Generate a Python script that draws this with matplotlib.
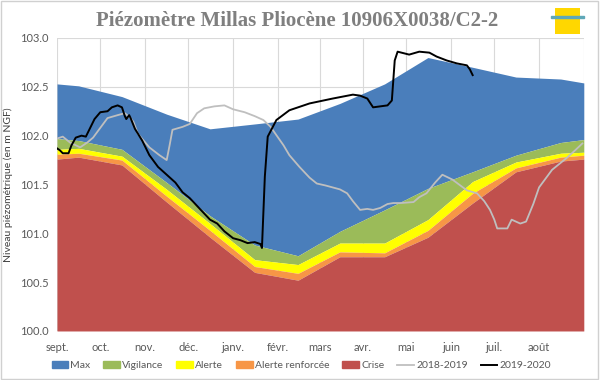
import matplotlib
matplotlib.use("Agg")
import matplotlib.pyplot as plt
from matplotlib.patches import Patch, Rectangle
from matplotlib.lines import Line2D

# days since 1 September (hydrological year)
month_starts = [0, 30, 61, 91, 122, 153, 182, 212, 242, 273, 303, 334]
month_labels = ["sept.", "oct.", "nov.", "déc.", "janv.", "févr.", "mars",
                "avr.", "mai", "juin", "juil.", "août"]

# threshold curves (monthly values, mid-month)
band_days = [0, 15, 45, 76, 106, 137, 167, 196, 227, 257, 288, 318, 349, 365]
max_lvl = [102.53, 102.51, 102.40, 102.22, 102.07, 102.12, 102.17, 102.33,
           102.53, 102.80, 102.70, 102.60, 102.58, 102.54]
vigilance = [101.97, 101.95, 101.86, 101.52, 101.18, 100.88, 100.77, 101.02,
             101.24, 101.46, 101.63, 101.80, 101.93, 101.96]
alerte = [101.86, 101.87, 101.79, 101.45, 101.10, 100.73, 100.68, 100.90,
          100.90, 101.14, 101.53, 101.73, 101.82, 101.83]
alerte_renf = [101.81, 101.82, 101.75, 101.38, 101.03, 100.66, 100.59, 100.81,
               100.80, 101.03, 101.41, 101.67, 101.78, 101.80]
crise = [101.76, 101.78, 101.70, 101.32, 100.96, 100.60, 100.52, 100.76,
         100.76, 100.96, 101.31, 101.63, 101.74, 101.76]

# 2018-2019 water levels
days_1819 = [0, 4, 9, 16, 21, 25, 30, 35, 42, 47, 51, 53, 56, 60, 64, 71, 76, 78,
             80, 87, 92, 97, 102, 109, 116, 122, 130, 137, 143, 148, 157, 161,
             168, 175, 180, 186, 191, 196, 201, 205, 210, 215, 219, 224, 229,
             233, 238, 247, 251, 256, 262, 267, 274, 284, 291, 296, 300, 303,
             305, 312, 315, 318, 321, 325, 330, 334, 339, 343, 353, 359, 364]
lvl_1819 = [101.97, 101.99, 101.93, 101.88, 101.93, 101.98, 102.08, 102.18,
            102.21, 102.23, 102.18, 102.14, 102.02, 101.95, 101.88, 101.80,
            101.75, 101.90, 102.06, 102.09, 102.12, 102.23, 102.28, 102.30,
            102.31, 102.27, 102.24, 102.20, 102.16, 102.09, 101.90, 101.80,
            101.68, 101.57, 101.51, 101.49, 101.47, 101.45, 101.41, 101.33,
            101.24, 101.25, 101.24, 101.26, 101.30, 101.31, 101.31, 101.32,
            101.37, 101.41, 101.52, 101.60, 101.55, 101.44, 101.41, 101.33,
            101.24, 101.14, 101.05, 101.05, 101.14, 101.12, 101.10, 101.12,
            101.30, 101.47, 101.57, 101.65, 101.77, 101.85, 101.92]

# 2019-2020 water levels
days_1920 = [0, 2, 4, 8, 10, 13, 17, 20, 23, 26, 30, 35, 38, 42, 45, 47, 48, 50,
             51, 54, 59, 64, 70, 76, 82, 87, 92, 99, 106, 111, 116, 122, 127,
             132, 137, 141, 142, 144, 146, 152, 161, 175, 191, 205, 210, 215,
             219, 224, 229, 232, 234, 236, 244, 251, 258, 263, 270, 277, 284,
             286, 288]
lvl_1920 = [101.87, 101.85, 101.82, 101.82, 101.90, 101.98, 102.00, 101.99,
            102.08, 102.17, 102.24, 102.25, 102.29, 102.31, 102.29, 102.20,
            102.17, 102.21, 102.18, 102.07, 101.95, 101.80, 101.68, 101.60,
            101.52, 101.42, 101.36, 101.25, 101.14, 101.10, 101.02, 100.95,
            100.93, 100.90, 100.91, 100.89, 100.85, 101.58, 101.99, 102.16,
            102.26, 102.33, 102.38, 102.42, 102.41, 102.38, 102.29, 102.30,
            102.31, 102.36, 102.77, 102.86, 102.83, 102.86, 102.85, 102.81,
            102.77, 102.74, 102.72, 102.68, 102.62]

c_max = "#4a7ebb"
c_vig = "#9bbb59"
c_al = "#ffff00"
c_ren = "#f79646"
c_cri = "#c0504d"

plt.rcParams["font.family"] = ["Lato", "DejaVu Sans"]

fig = plt.figure(figsize=(6, 3.8), dpi=100)
ax = fig.add_axes([0.095, 0.129, 0.878, 0.771])

base = [100.0] * len(band_days)
ax.fill_between(band_days, vigilance, max_lvl, color=c_max, lw=0)
ax.fill_between(band_days, alerte, vigilance, color=c_vig, lw=0)
ax.fill_between(band_days, alerte_renf, alerte, color=c_al, lw=0)
ax.fill_between(band_days, crise, alerte_renf, color=c_ren, lw=0)
ax.fill_between(band_days, base, crise, color=c_cri, lw=0)

ax.plot(days_1819, lvl_1819, color="#bfbfbf", lw=1.3)
ax.plot(days_1920, lvl_1920, color="black", lw=1.4)

ax.set_xlim(0, 365)
ax.set_ylim(100, 103)
ax.set_xticks(month_starts + [365])
ax.set_xticklabels(month_labels + [""])
ax.set_yticks([100 + 0.5 * i for i in range(7)])
ax.set_yticklabels(["%.1f" % (100 + 0.5 * i) for i in range(7)])
ax.tick_params(length=0, labelsize=8, colors="#595959", pad=6)
ax.tick_params(axis="x", pad=8)
ax.grid(True, color="#d9d9d9", lw=0.8)
ax.set_axisbelow(True)
for s in ax.spines.values():
    s.set_visible(False)

ax.set_ylabel("Niveau piézométrique (en m NGF)", fontsize=7.5, color="#404040",
              labelpad=5)

fig.text(0.495, 0.945, "Piézomètre Millas Pliocène 10906X0038/C2-2",
         ha="center", va="center", fontsize=15, fontweight="bold",
         color="#7f7f7f", family="Liberation Serif")

# small logo in top right corner
logo = fig.add_axes([0.925, 0.91, 0.042, 0.068])
logo.add_patch(Rectangle((0, 0), 1, 1, color="#ffd700"))
logo.add_patch(Rectangle((-0.15, 0.62), 1.3, 0.1, color="#5fa8b8", clip_on=False))
logo.set_xlim(0, 1)
logo.set_ylim(0, 1)
logo.axis("off")

handles = [Patch(color=c_max, label="Max"),
           Patch(color=c_vig, label="Vigilance"),
           Patch(color=c_al, label="Alerte"),
           Patch(color=c_ren, label="Alerte renforcée"),
           Patch(color=c_cri, label="Crise"),
           Line2D([], [], color="#bfbfbf", lw=1.3, label="2018-2019"),
           Line2D([], [], color="black", lw=1.4, label="2019-2020")]
leg = fig.legend(handles=handles, loc="center", bbox_to_anchor=(0.502, 0.037),
                 ncol=7, frameon=False, fontsize=7.5, handlelength=1.6,
                 handleheight=0.6, handletextpad=0.2, columnspacing=1.25,
                 borderpad=0.2)
for t in leg.get_texts():
    t.set_color("#595959")

fig.patches.append(Rectangle((0.002, 0.003), 0.995, 0.994, transform=fig.transFigure,
                             fill=False, edgecolor="#d0d0d0", lw=1))

fig.savefig("out.png", dpi=100)
